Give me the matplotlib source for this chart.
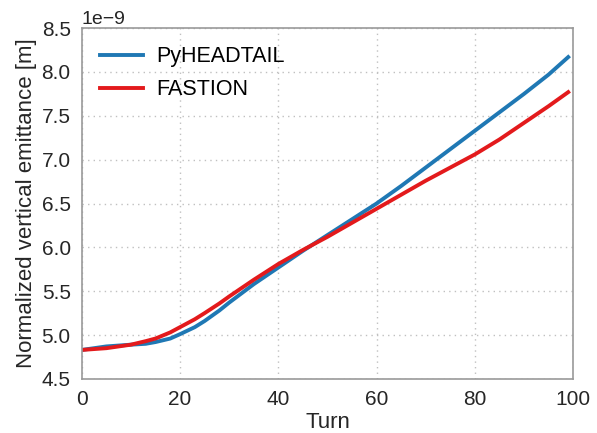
import numpy as np
import matplotlib
matplotlib.use("Agg")
import matplotlib.pyplot as plt

# emittance values, in units of 1e-9 m
turns = [0, 5, 10, 13, 15, 18, 20, 23, 25, 28, 30, 35, 40, 45, 50, 55, 60,
         65, 70, 75, 80, 85, 90, 95, 99]
pyheadtail = [4.83, 4.87, 4.89, 4.90, 4.92, 4.96, 5.01, 5.09, 5.16, 5.28, 5.37,
              5.58, 5.77, 5.96, 6.14, 6.32, 6.50, 6.70, 6.91, 7.12, 7.33,
              7.54, 7.75, 7.97, 8.17]
fastion = [4.83, 4.85, 4.89, 4.93, 4.96, 5.03, 5.09, 5.18, 5.25, 5.36, 5.44,
           5.63, 5.81, 5.97, 6.12, 6.28, 6.44, 6.60, 6.76, 6.91, 7.06,
           7.23, 7.42, 7.61, 7.77]

plt.rcParams["font.family"] = ["Liberation Sans", "DejaVu Sans"]

fig, ax = plt.subplots(figsize=(5.97, 4.33), dpi=100)
fig.subplots_adjust(left=0.137, right=0.96, top=0.935, bottom=0.125)

t = np.array(turns)
ax.plot(t, np.array(pyheadtail) * 1e-9, color="#1f78b4", linewidth=2.8, label="PyHEADTAIL")
ax.plot(t, np.array(fastion) * 1e-9, color="#e31a1c", linewidth=2.8, label="FASTION")

ax.set_xlim(0, 100)
ax.set_ylim(4.5e-9, 8.5e-9)
ax.set_xticks([0, 20, 40, 60, 80, 100])
ax.set_yticks(np.arange(4.5, 8.51, 0.5) * 1e-9)

ax.set_xlabel("Turn", fontsize=16, color="#262626", labelpad=2)
ax.set_ylabel("Normalized vertical emittance [m]", fontsize=16, color="#262626", labelpad=3)
ax.tick_params(labelsize=15, length=0, pad=8, colors="#262626")
ax.yaxis.get_offset_text().set_fontsize(14)
ax.yaxis.get_offset_text().set_color("#262626")

ax.grid(True, linestyle=(0, (1, 3)), color="#c0c0c0", linewidth=1)
for s in ax.spines.values():
    s.set_color("#999999")
    s.set_linewidth(1.2)

ax.legend(loc="upper left", frameon=False, fontsize=15.5, handlelength=2.0,
          handletextpad=0.6, borderaxespad=0.45, labelspacing=0.55)

plt.savefig("out.png", dpi=100)
